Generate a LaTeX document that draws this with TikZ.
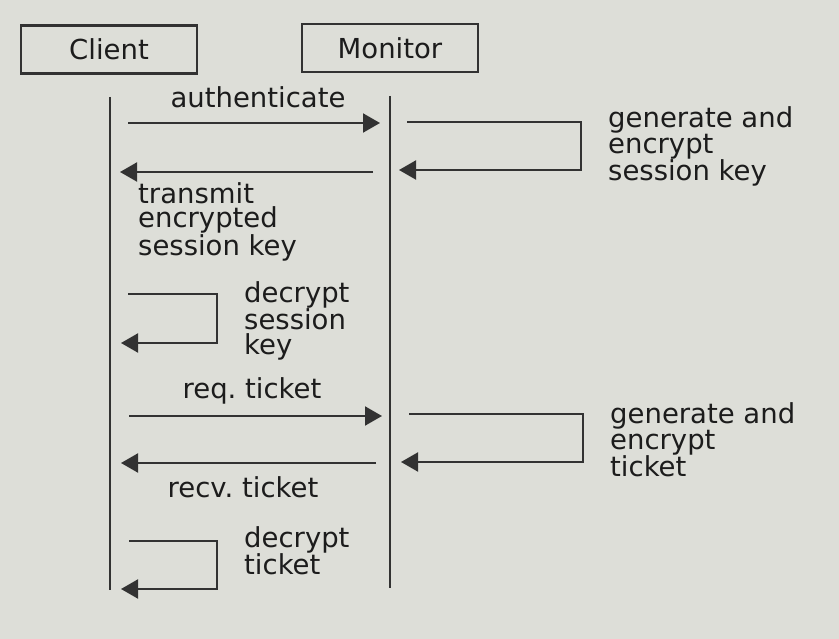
\documentclass[tikz,border=0pt]{standalone}
\usepackage{fontspec}
\setmainfont{DejaVu Sans}
\usetikzlibrary{arrows.meta}
\definecolor{bg}{RGB}{221,222,216}
\definecolor{ink}{RGB}{28,28,28}
\definecolor{linec}{RGB}{50,50,50}
\begin{document}
\begin{tikzpicture}[x=1pt,y=-1pt,
  actor/.style={draw=linec,line width=2.5pt,minimum width=176pt,minimum height=48pt,inner sep=0pt,text=ink,font=\fontsize{27.5}{24.5}\selectfont},
  lifeline/.style={draw=linec,line width=2pt},
  msg/.style={draw=linec,line width=2pt,-{Triangle[length=17pt,width=19pt]}},
  lbl/.style={inner sep=0pt,text=ink,align=left,font=\fontsize{27.5}{24.5}\selectfont},
  ]
\fill[bg] (0,0) rectangle (839,639);
\useasboundingbox (0,0) rectangle (839,639);

% actors
\node[actor] (client) at (109,49.5) {Client};
\node[actor] (monitor) at (390,48) {Monitor};

% lifelines
\coordinate (ctop) at (110,97);
\coordinate (cbot) at (110,590);
\coordinate (mtop) at (390,96);
\coordinate (mbot) at (390,588);
\draw[lifeline] (ctop) -- (cbot);
\draw[lifeline] (mtop) -- (mbot);

% authenticate
\coordinate (a1) at (128,123);
\coordinate (a2) at (380,123);
\draw[msg] (a1) -- (a2);
\node[lbl,anchor=north] (lauth) at (258,86) {authenticate};

% monitor self loop 1
\coordinate (m1a) at (407,122);
\coordinate (m1b) at (581,122);
\coordinate (m1c) at (581,170);
\coordinate (m1d) at (399,170);
\draw[msg] (m1a) -- (m1b) -- (m1c) -- (m1d);
\node[lbl,anchor=north west] (lgen1) at (608,106) {generate and\\encrypt\\session key};

% transmit
\coordinate (t1) at (373,172);
\coordinate (t2) at (120,172);
\draw[msg] (t1) -- (t2);
\node[lbl,anchor=north west] (ltrans) at (138,182) {transmit\\encrypted\\session key};

% client self loop 1
\coordinate (c1a) at (128,294);
\coordinate (c1b) at (217,294);
\coordinate (c1c) at (217,343);
\coordinate (c1d) at (121,343);
\draw[msg] (c1a) -- (c1b) -- (c1c) -- (c1d);
\node[lbl,anchor=north west] (ldec1) at (244,281) {decrypt\\session\\key};

% req. ticket
\coordinate (r1) at (129,416);
\coordinate (r2) at (382,416);
\draw[msg] (r1) -- (r2);
\node[lbl,anchor=north] (lreq) at (252,377) {req.\ ticket};

% monitor self loop 2
\coordinate (m2a) at (409,414);
\coordinate (m2b) at (583,414);
\coordinate (m2c) at (583,462);
\coordinate (m2d) at (401,462);
\draw[msg] (m2a) -- (m2b) -- (m2c) -- (m2d);
\node[lbl,anchor=north west] (lgen2) at (610,402) {generate and\\encrypt\\ticket};

% recv. ticket
\coordinate (v1) at (376,463);
\coordinate (v2) at (121,463);
\draw[msg] (v1) -- (v2);
\node[lbl,anchor=north] (lrecv) at (243,476) {recv.\ ticket};

% client self loop 2
\coordinate (c2a) at (129,541);
\coordinate (c2b) at (217,541);
\coordinate (c2c) at (217,589);
\coordinate (c2d) at (121,589);
\draw[msg] (c2a) -- (c2b) -- (c2c) -- (c2d);
\node[lbl,anchor=north west] (ldec2) at (244,526) {decrypt\\ticket};
\end{tikzpicture}
\end{document}
